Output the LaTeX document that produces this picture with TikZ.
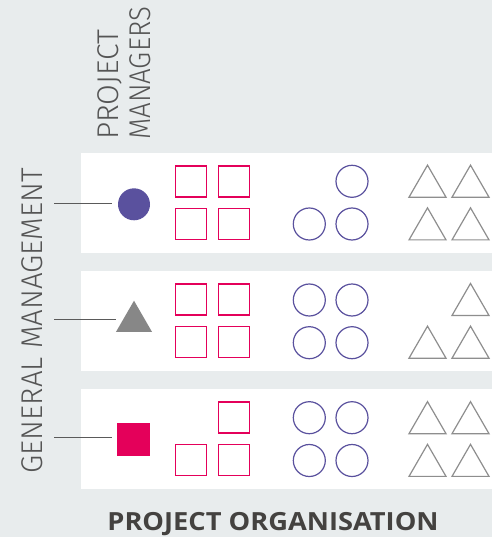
\documentclass[tikz,border=0pt]{standalone}
\usepackage{fontspec}
\setmainfont{Fira Sans}
\newfontfamily\lightfont{Fira Sans Light}
\newfontfamily\titlefont{Open Sans}
\usetikzlibrary{shapes.geometric}
\definecolor{bg}{HTML}{E8ECED}
\definecolor{pm}{HTML}{5A519E}
\definecolor{mg}{HTML}{E4005A}
\definecolor{tg}{HTML}{8E8E8E}
\definecolor{ft}{HTML}{878787}
\definecolor{ln}{HTML}{5A5A5A}
\definecolor{txt}{HTML}{555555}
\definecolor{ttl}{HTML}{444240}
\tikzset{
  sq/.style={draw=mg, line width=1.3pt, rectangle, minimum size=31pt, inner sep=0pt},
  ci/.style={draw=pm, line width=1.2pt, circle, minimum size=32pt, inner sep=0pt},
  tri/.style={draw=tg, line width=1.2pt, regular polygon, regular polygon sides=3, minimum size=42.7pt, inner sep=0pt},
  conn/.style={draw=ln, line width=1.1pt},
  band/.style={fill=white},
  lbl/.style={text=txt, font=\lightfont\fontsize{30}{32}\selectfont, inner sep=0pt},
}
\begin{document}
\begin{tikzpicture}[x=1pt,y=1pt]
\fill[bg] (0,0) rectangle (492,-537);
\useasboundingbox (0,0) rectangle (492,-537);
% bands
\foreach \t [count=\b] in {153,271,389} {
  \fill[band] (81,-\t) rectangle (492,-\t-100);
}
% squares
\foreach \x/\y/\n in {191/181.5/a1,233.7/181.5/a2,191/224/a3,233.7/224/a4,
                      191/299.5/b1,233.7/299.5/b2,191/342/b3,233.7/342/b4,
                      233.7/417.5/c2,191/460/c3,233.7/460/c4}
  \node[sq] (s\n) at (\x,-\y) {};
% circles
\foreach \x/\y/\n in {352/181.3/a2,309.3/224/a3,352/224/a4,
                      309.3/300/b1,352/300/b2,309.3/342.7/b3,352/342.7/b4,
                      309.3/417.7/c1,352/417.7/c2,309.3/460.5/c3,352/460.5/c4}
  \node[ci] (c\n) at (\x,-\y) {};
% triangles (centre = apex + 21.35)
\foreach \x/\y/\n in {427.5/186.5/a1,470.5/186.5/a2,427.5/229.2/a3,470.5/229.2/a4,
                      470.5/304.8/b2,427.5/347.5/b3,470.5/347.5/b4,
                      427.5/423/c1,470.5/423/c2,427.5/465.7/c3,470.5/465.7/c4}
  \node[tri] (t\n) at (\x,-\y) {};
% managers' markers
\node[circle, fill=pm, minimum size=32pt, inner sep=0pt] (m1) at (134,-204.3) {};
\node[regular polygon, regular polygon sides=3, fill=ft, minimum size=41.6pt, inner sep=0pt] (m2) at (134,-321.5) {};
\node[rectangle, fill=mg, minimum size=33pt, inner sep=0pt] (m3) at (133.5,-439.5) {};
% connectors
\coordinate (g1) at (54,-203.3);
\coordinate (g2) at (54,-319.7);
\coordinate (g3) at (54,-437.7);
\draw[conn, shorten >=6.3pt] (g1) -- (g1 -| m1.west);
\draw[conn, shorten >=6pt] (g2) -- (g2 -| m2.west);
\draw[conn, shorten >=5.3pt] (g3) -- (g3 -| m3.west);
% labels
\node[lbl, rotate=90, anchor=base] (gm) at (42.7,-320.8) {\scalebox{0.98}[1]{GENERAL MANAGEMENT}};
\node[lbl, rotate=90, anchor=base west] (pj) at (118.3,-140) {PROJECT};
\node[lbl, rotate=90, anchor=base west] (mn) at (150,-140) {\scalebox{0.92}[1]{MANAGERS}};
\node[text=ttl, font=\titlefont\bfseries\fontsize{25}{28}\selectfont, inner sep=0pt, anchor=base] (title) at (273,-530.7) {\scalebox{1.09}[1]{PROJECT ORGANISATION}};
\end{tikzpicture}
\end{document}
